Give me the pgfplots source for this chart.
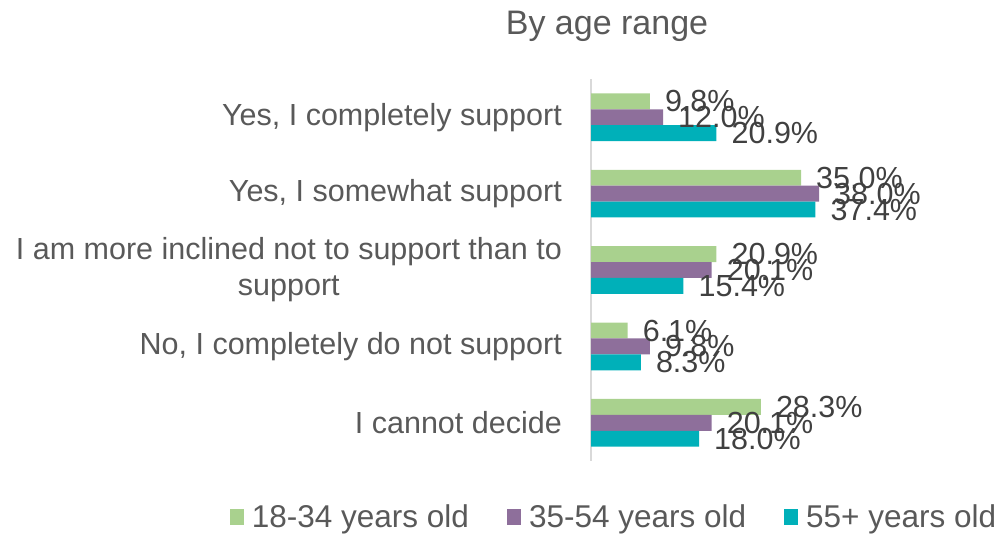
\documentclass[border=0pt]{standalone}
\usepackage{fontspec}
\setmainfont{Liberation Sans}
\usepackage{pgfplots}
\pgfplotsset{compat=1.18}
\definecolor{cgreen}{HTML}{A9D18E}
\definecolor{cpurple}{HTML}{8E6F9B}
\definecolor{cteal}{HTML}{00B0B9}
\definecolor{txt}{HTML}{595959}
\definecolor{dtxt}{HTML}{404040}
\newcommand\lab{\fontsize{30.5bp}{36bp}\selectfont}
\newcommand\dlab{\fontsize{30.5bp}{36bp}\selectfont}
\newcommand\leglab{\fontsize{31.5bp}{36bp}\selectfont}
\begin{document}
\begin{tikzpicture}[x=1bp,y=1bp]
\path[use as bounding box] (0,0) rectangle (999,-534);
\begin{axis}[
 at={(591bp,-461bp)}, anchor=south west,
 scale only axis, width=240bp, height=382bp,
 xbar=0pt, bar width=15.9bp,
 xmin=0, xmax=40, ymin=-0.5, ymax=4.5, y dir=reverse,
 hide x axis, axis y line*=left,
 y axis line style={draw=black!15, line width=2bp, -},
 ytick={0,1,2,3,4},
 yticklabels={{Yes, I completely support},{Yes, I somewhat support},{I am more inclined not to support than to\\support},{No, I completely do not support},{I cannot decide}},
 major tick length=0pt,
 yticklabel style={font=\lab, text=txt, align=center, inner sep=0pt, xshift=-29bp},
 /pgf/number format/assume math mode=true,
 nodes near coords={\pgfmathprintnumber[fixed,fixed zerofill,precision=1]{\pgfplotspointmeta}\%},
 every node near coord/.append style={font=\dlab, text=dtxt, anchor=west, inner sep=0pt, xshift=15bp},
 title={By age range},
 title style={at={(0.0667,1)}, anchor=base, yshift=39bp, font=\fontsize{34bp}{36bp}\selectfont, text=txt},
 legend columns=3,
 legend style={at={(0.0917,-0.1466)}, anchor=center, draw=none, fill=none, inner sep=0pt,
   font=\leglab, text=txt, nodes={inner sep=0pt},
   /tikz/every even column/.append style={column sep=38bp},
   /tikz/every odd column/.append style={column sep=8bp}},
 legend image code/.code={\fill[#1] (0bp,-8bp) rectangle (14bp,8bp);},
]
\addplot[fill=cgreen, draw=none, bar shift=15.9bp] coordinates {(9.8,0) (35.0,1) (20.9,2) (6.1,3) (28.3,4)};
\addplot[fill=cpurple, draw=none, bar shift=0bp] coordinates {(12.0,0) (38.0,1) (20.1,2) (9.8,3) (20.1,4)};
\addplot[fill=cteal, draw=none, bar shift=-15.9bp] coordinates {(20.9,0) (37.4,1) (15.4,2) (8.3,3) (18.0,4)};
\legend{18-34 years old, 35-54 years old, 55+ years old}
\end{axis}
\end{tikzpicture}
\end{document}
